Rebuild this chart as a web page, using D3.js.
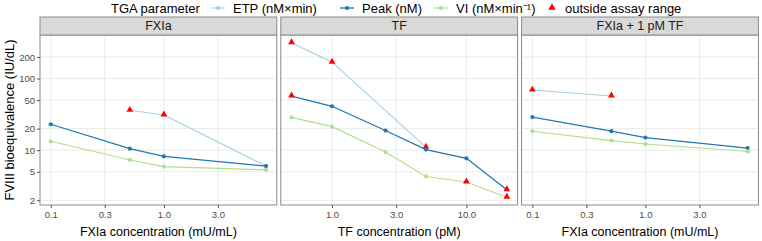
<!DOCTYPE html>
<html>
<head>
<meta charset="utf-8">
<script src="https://cdn.jsdelivr.net/npm/d3@7"></script>
<style>
  body { margin: 0; background: #fff; }
  svg { font-family: "Liberation Sans", Arial, sans-serif; }
</style>
</head>
<body>
<div id="chart"></div>
<script>
// panels and axis titles
var panelNames = ["FXIa", "TF", "FXIa + 1 pM TF"];
var xTitles = ["FXIa concentration (mU/mL)", "TF concentration (pM)", "FXIa concentration (mU/mL)"];

// concentrations per panel
var fxiaConc = [0.1, 0.5, 1, 8];
var tfConc = [0.5, 1, 2.5, 5, 10, 20];
var fxiaTfConc = [0.1, 0.5, 1, 8];

// FVIII bioequivalence (IU/dL), null = not measured
var etpFxia = [null, 36, 31, 6.0];
var peakFxia = [23, 10.5, 8.2, 6.0];
var viFxia = [13.3, 7.3, 5.9, 5.3];
var etpOutFxia = [false, true, true, false];
var peakOutFxia = [false, false, false, false];
var viOutFxia = [false, false, false, false];

var etpTf = [316, 169, null, 11, null, null];
var peakTf = [57, 41, 18.8, 10.2, 7.7, 2.8];
var viTf = [28.7, 21.3, 9.4, 4.3, 3.6, 2.2];
var etpOutTf = [true, true, false, true, false, false];
var peakOutTf = [true, false, false, false, false, true];
var viOutTf = [false, false, false, false, true, true];

var etpFxiaTf = [69, 57, null, null];
var peakFxiaTf = [29, 18.4, 15, 10.7];
var viFxiaTf = [18.4, 13.6, 12.2, 9.6];
var etpOutFxiaTf = [true, true, false, false];
var peakOutFxiaTf = [false, false, false, false];
var viOutFxiaTf = [false, false, false, false];

// tick values
var fxiaTicks = [0.1, 0.3, 1, 3];
var tfTicks = [1, 3, 10];
var yTicks = [2, 5, 10, 20, 50, 100, 200];

var seriesNames = ["ETP (nM\u00d7min)", "Peak (nM)", "VI (nM\u00d7min\u207b\u00b9)"];
var seriesColors = ["#a6cee3", "#1f78b4", "#b2df8a"];
var seriesWidths = [1.1, 1.3, 1.1];
var outColor = "#ff0000";

var panels = [
  {conc: fxiaConc, ticks: fxiaTicks, series: [[etpFxia, etpOutFxia], [peakFxia, peakOutFxia], [viFxia, viOutFxia]]},
  {conc: tfConc, ticks: tfTicks, series: [[etpTf, etpOutTf], [peakTf, peakOutTf], [viTf, viOutTf]]},
  {conc: fxiaTfConc, ticks: fxiaTicks, series: [[etpFxiaTf, etpOutFxiaTf], [peakFxiaTf, peakOutFxiaTf], [viFxiaTf, viOutFxiaTf]]}
];

var width = 762, height = 241;
var left = 40, panelW = 236.8, gap = 4;
var stripTop = 17, plotTop = 35, plotBottom = 205;

var svg = d3.select('#chart').append('svg')
  .attr('width', width)
  .attr('height', height);

// log domain with ggplot-like 5% expansion
function expandLog(vals) {
  var ext = d3.extent(vals.map(function (v) { return Math.log10(v); }));
  var pad = (ext[1] - ext[0]) * 0.05;
  return [Math.pow(10, ext[0] - pad), Math.pow(10, ext[1] + pad)];
}

var allY = [];
panels.forEach(function (p) {
  p.series.forEach(function (s) {
    s[0].forEach(function (v) { if (v != null) allY.push(v); });
  });
});

var yScale = d3.scaleLog()
  .domain(expandLog(allY))
  .range([plotBottom, plotTop]);

panels.forEach(function (p, pi) {
  var x0 = left + pi * (panelW + gap);
  var xScale = d3.scaleLog()
    .domain(expandLog(p.conc))
    .range([0, panelW]);

  var g = svg.append('g').attr('transform', 'translate(' + x0 + ',0)');

  // grid
  g.append('g').selectAll('line.h').data(yTicks).enter().append('line')
    .attr('x1', 0).attr('x2', panelW)
    .attr('y1', function (d) { return yScale(d); })
    .attr('y2', function (d) { return yScale(d); })
    .attr('stroke', '#ebebeb').attr('stroke-width', 1);
  g.append('g').selectAll('line.v').data(p.ticks).enter().append('line')
    .attr('y1', plotTop).attr('y2', plotBottom)
    .attr('x1', function (d) { return xScale(d); })
    .attr('x2', function (d) { return xScale(d); })
    .attr('stroke', '#ebebeb').attr('stroke-width', 1);

  // lines
  p.series.forEach(function (s, si) {
    var pts = p.conc.map(function (c, i) { return {x: c, y: s[0][i], out: s[1][i]}; })
      .filter(function (d) { return d.y != null; });
    var line = d3.line()
      .x(function (d) { return xScale(d.x); })
      .y(function (d) { return yScale(d.y); });
    g.append('path').datum(pts)
      .attr('d', line)
      .attr('fill', 'none')
      .attr('stroke', seriesColors[si])
      .attr('stroke-width', seriesWidths[si]);
    g.selectAll(null).data(pts.filter(function (d) { return !d.out; })).enter().append('circle')
      .attr('cx', function (d) { return xScale(d.x); })
      .attr('cy', function (d) { return yScale(d.y); })
      .attr('r', 2.1)
      .attr('fill', seriesColors[si]);
    g.selectAll(null).data(pts.filter(function (d) { return d.out; })).enter().append('path')
      .attr('d', d3.symbol().type(d3.symbolTriangle).size(20))
      .attr('transform', function (d) { return 'translate(' + xScale(d.x) + ',' + (yScale(d.y) - 0.5) + ')'; })
      .attr('fill', outColor);
  });

  // border
  g.append('rect')
    .attr('x', 0).attr('y', plotTop)
    .attr('width', panelW).attr('height', plotBottom - plotTop)
    .attr('fill', 'none').attr('stroke', '#8a8a8a').attr('stroke-width', 1);

  // strip
  g.append('rect')
    .attr('x', 0).attr('y', stripTop)
    .attr('width', panelW).attr('height', plotTop - stripTop)
    .attr('fill', '#d9d9d9').attr('stroke', '#8a8a8a').attr('stroke-width', 1);
  g.append('text')
    .attr('x', panelW / 2).attr('y', (stripTop + plotTop) / 2)
    .attr('dy', '0.35em')
    .attr('text-anchor', 'middle')
    .attr('font-size', '12.5px')
    .attr('fill', '#1a1a1a')
    .text(panelNames[pi]);

  // x axis
  var xAxis = d3.axisBottom(xScale).tickValues(p.ticks)
    .tickFormat(d3.format('.1f')).tickSize(3).tickPadding(3);
  var ax = g.append('g').attr('transform', 'translate(0,' + plotBottom + ')').call(xAxis);
  ax.select('.domain').remove();
  ax.selectAll('line').attr('stroke', '#555');
  ax.selectAll('text').attr('font-size', '9.5px').attr('fill', '#4d4d4d')
    .attr('font-family', '"Liberation Sans", Arial, sans-serif');

  g.append('text')
    .attr('x', panelW / 2).attr('y', 232)
    .attr('dy', '0.35em')
    .attr('text-anchor', 'middle')
    .attr('font-size', '12.5px')
    .attr('fill', '#000')
    .text(xTitles[pi]);

  if (pi === 0) {
    var yAxis = d3.axisLeft(yScale).tickValues(yTicks)
      .tickFormat(d3.format('d')).tickSize(3).tickPadding(2);
    var ay = g.append('g').call(yAxis);
    ay.select('.domain').remove();
    ay.selectAll('line').attr('stroke', '#555');
    ay.selectAll('text').attr('font-size', '9.5px').attr('fill', '#4d4d4d')
      .attr('font-family', '"Liberation Sans", Arial, sans-serif');
  }
});

// y title
svg.append('text')
  .attr('transform', 'translate(9,' + ((plotTop + plotBottom) / 2) + ') rotate(-90)')
  .attr('dy', '0.35em')
  .attr('text-anchor', 'middle')
  .attr('font-size', '13px')
  .text('FVIII bioequivalence (IU/dL)');

// legend
var legend = svg.append('g').attr('transform', 'translate(0,8)').attr('font-size', '13px');
legend.append('text').attr('x', 111).attr('dy', '0.35em').text('TGA parameter');
var keyX = [218, 347, 441];
seriesNames.forEach(function (name, i) {
  legend.append('line')
    .attr('x1', keyX[i] - 7).attr('x2', keyX[i] + 7)
    .attr('stroke', seriesColors[i]).attr('stroke-width', seriesWidths[i]);
  legend.append('circle').attr('cx', keyX[i]).attr('r', 2.1).attr('fill', seriesColors[i]);
  legend.append('text').attr('x', keyX[i] + 15).attr('dy', '0.35em').text(name);
});
legend.append('path')
  .attr('d', d3.symbol().type(d3.symbolTriangle).size(24))
  .attr('transform', 'translate(552,-0.5)')
  .attr('fill', outColor);
legend.append('text').attr('x', 565).attr('dy', '0.35em').text('outside assay range');
</script>
</body>
</html>
